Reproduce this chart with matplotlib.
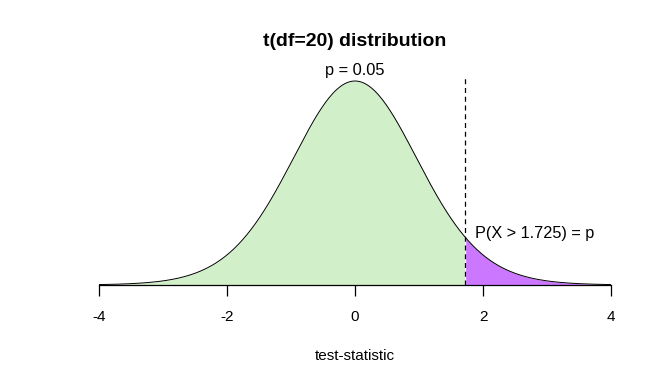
import math
import numpy as np
import matplotlib
matplotlib.use("Agg")
import matplotlib.pyplot as plt

plt.rcParams['font.family'] = ['Liberation Sans', 'DejaVu Sans']

df = 20
t_crit = 1.725
p_value = 0.05
x_ticks = [-4, -2, 0, 2, 4]
x_min, x_max = -4, 4


def t_pdf(x, nu):
    c = math.gamma((nu + 1) / 2) / (math.sqrt(nu * math.pi) * math.gamma(nu / 2))
    return c * (1 + x ** 2 / nu) ** (-(nu + 1) / 2)


x = np.linspace(x_min, x_max, 600)
y = t_pdf(x, df)
peak = t_pdf(0, df)

fig = plt.figure(figsize=(6.72, 3.84), dpi=100)
# axes placed in pixels: left 99, right 611, baseline 285, top 60
ax = fig.add_axes([99 / 672, 99 / 384, 512 / 672, 225 / 384])
top = peak * 225 / 204
ax.set_xlim(x_min, x_max)
ax.set_ylim(0, top)

ax.fill_between(x, 0, y, where=x <= t_crit, color='#D1EFC9', lw=0)
ax.fill_between(x, 0, y, where=x >= t_crit, color='#CC77FF', lw=0)
ax.plot(x, y, color='black', lw=0.7)
ax.plot([t_crit, t_crit], [0, peak * 210 / 204], color='black', lw=0.9,
        ls=(0, (4, 3)))

ax.text(0, peak * 1.015, 'p = %.2f' % p_value, ha='center', va='bottom',
        fontsize=11.8)
ax.text(t_crit + 0.15, t_pdf(t_crit, df) * 1.08, 'P(X > %.3f) = p' % t_crit,
        ha='left', va='center', fontsize=11.7)

for s in ['left', 'right', 'top']:
    ax.spines[s].set_visible(False)
ax.spines['bottom'].set_bounds(x_min, x_max)
ax.spines['bottom'].set_linewidth(0.9)
ax.set_yticks([])
ax.set_xticks(x_ticks)
ax.set_xticklabels([str(v) for v in x_ticks], fontsize=11)
ax.tick_params(axis='x', length=8, width=0.9, pad=10)
ax.set_xlabel('test-statistic', fontsize=11, labelpad=18)
ax.set_title('t(df=%d) distribution' % df, fontsize=14, fontweight='bold',
             pad=0, y=(285 - 42) / 225)
ax.title.set_va('center')

fig.savefig('out.png', dpi=100)
